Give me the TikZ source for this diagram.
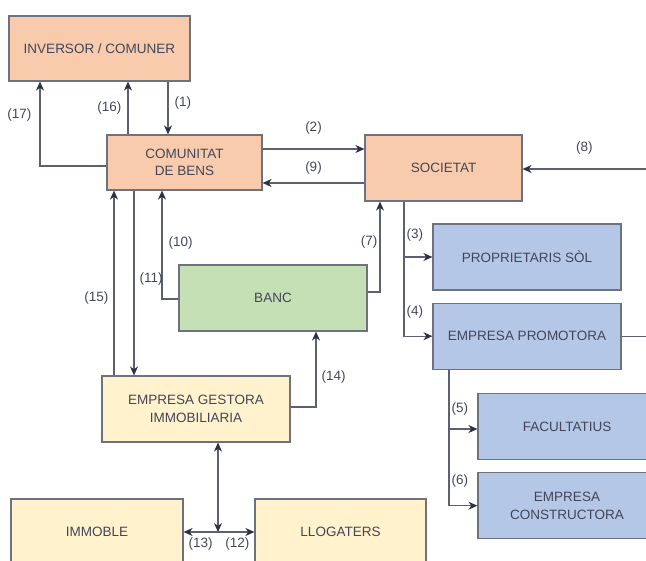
\documentclass[tikz,border=0pt]{standalone}
\usepackage{fontspec}
\setmainfont{Liberation Sans}
\usetikzlibrary{arrows.meta,positioning}

\definecolor{peach}{HTML}{F8CBAD}
\definecolor{sky}{HTML}{B4C7E7}
\definecolor{leaf}{HTML}{C5E0B4}
\definecolor{cream}{HTML}{FFF2CC}
\definecolor{edge}{HTML}{6E717E}
\definecolor{wire}{HTML}{5C6072}
\definecolor{tip}{HTML}{2C3045}
\definecolor{ink}{HTML}{43465A}

\begin{document}
\begin{tikzpicture}[
		x=1pt, y=-1pt,
		font=\fontsize{13.5}{17.5}\selectfont,
		text=ink,
		box/.style={draw=edge, line width=1.2pt, minimum width=188pt, minimum height=66pt, align=center, inner sep=0pt},
		arrow/.style={draw=wire, line width=1.2pt, -{Stealth[length=9pt,width=8pt,color=tip]}},
		twoway/.style={arrow, {Stealth[length=9pt,width=8pt,color=tip]}-{Stealth[length=9pt,width=8pt,color=tip]}},
		tag/.style={inner sep=2pt},
	]
		\clip (0,0) rectangle (646,561);
		\node (inv) [box, fill=peach, minimum width=181pt, minimum height=65pt] at (99.5,48.5) {INVERSOR / COMUNER};
		\node (com) [box, fill=peach, minimum width=155pt, minimum height=55pt] at (184.5,162.5) {COMUNITAT\\DE BENS};
		\node (soc) [box, fill=peach, minimum width=157pt] at (443.5,168) {SOCIETAT};
		\node (prop) [box, fill=sky] at (527,257) {PROPRIETARIS SÒL};
		\node (prom) [box, fill=sky, below=12pt of prop] {EMPRESA PROMOTORA};
		\node (fac) [box, fill=sky, minimum width=178pt] at (567,426.5) {FACULTATIUS};
		\node (cons) [box, fill=sky, minimum width=178pt, below=12pt of fac] {EMPRESA\\CONSTRUCTORA};
		\node (banc) [box, fill=leaf] at (273,298) {BANC};
		\node (gest) [box, fill=cream] at (196,409) {EMPRESA GESTORA\\IMMOBILIARIA};
		\node (imm) [box, fill=cream, minimum width=172pt] at (97,532) {IMMOBLE};
		\node (llog) [box, fill=cream, minimum width=171pt] at (340.5,532) {LLOGATERS};
		\coordinate (e8) at (646,169);
		\coordinate (jn) at (218,532);
		
		\draw[arrow] ([xshift=68.5]inv.south) -- node[tag, right=4pt, pos=0.4]{(1)} ([xshift=-16.5]com.north);
		\draw[arrow] ([xshift=-56.5]com.north) -- node[tag, left=4pt, pos=0.5]{(16)} ([xshift=28.5]inv.south);
		\draw[arrow] ([yshift=-3.5]com.west) -| node[tag, left=6pt, pos=0.8]{(17)} ([xshift=-59.5]inv.south);
		\draw[arrow] ([yshift=13.5]com.east) -- node[tag, above=12pt]{(2)} ([yshift=19]soc.west);
		\draw[arrow] ([yshift=-15]soc.west) -- node[tag, above=6pt]{(9)} ([yshift=-20.5]com.east);
		\draw[arrow] (e8) -- node[tag, above=12pt]{(8)} ([yshift=-1]soc.east);
		\draw[arrow] ([xshift=-39.5]soc.south) |- node[tag, right, pos=0.3]{(3)} (prop.west);
		\draw[arrow] ([xshift=-39.5]soc.south) |- node[tag, right, pos=0.41]{(4)} (prom.west);
		\draw[draw=wire, line width=1.2pt] (prom.east) -- (prom.east -| e8);
		\draw[arrow] ([xshift=-78]prom.south) |- node[tag, right, pos=0.33]{(5)} ([yshift=-2.5]fac.west);
		\draw[arrow] ([xshift=-78]prom.south) |- node[tag, right, pos=0.41]{(6)} (cons.west);
		\draw[arrow] ([yshift=6]banc.east) -| node[tag, left, pos=0.775]{(7)} ([xshift=-63.5]soc.south);
		\draw[arrow] ([yshift=-1]banc.west) -| node[tag, right=4pt, pos=0.76]{(10)} ([xshift=-22.5]com.south);
		\draw[arrow] ([xshift=-50.5]com.south) -- node[tag, right=3pt, pos=0.48]{(11)} ([xshift=-62]gest.north);
		\draw[arrow] ([xshift=-82]gest.north) -- node[tag, left=3pt, pos=0.42]{(15)} ([xshift=-70.5]com.south);
		\draw[arrow] ([yshift=2]gest.east) -| node[tag, right=3pt, pos=0.7]{(14)} ([xshift=43]banc.south);
		\draw[twoway] ([xshift=22]gest.south) -- (jn);
		\draw[twoway] (imm.east) -- node[tag, below=3pt, pos=0.24]{(13)} node[tag, below=3pt, pos=0.76]{(12)} (llog.west);
	\end{tikzpicture}
\end{document}
